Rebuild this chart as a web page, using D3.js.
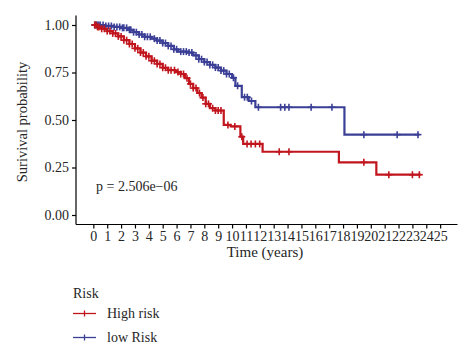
<!DOCTYPE html>
<html><head><meta charset="utf-8">
<script src="https://cdn.jsdelivr.net/npm/d3@7"></script>
<style>body{margin:0;background:#fff}svg{display:block}text{font-family:"Liberation Serif","DejaVu Serif",serif;fill:#262626}</style>
</head><body>
<script>
// ---- data ----
const xTicks = d3.range(0, 26);
const yTicks = [0, 0.25, 0.5, 0.75, 1.0];
const groups = ["High risk", "low Risk"];
const colors = ["#c1151d", "#3b3f96"];
const pText = "p = 2.506e\u221206";

// step knots [time, survival after step]
const highTimes = [0, 0.3, 0.6, 1.0, 1.4, 1.8, 2.2, 2.6, 3.0, 3.4, 3.8, 4.2, 4.6, 5.0, 5.4, 5.9, 6.3, 6.6, 6.9, 7.2, 7.5, 7.8, 8.1, 8.4, 8.8, 9.4, 9.9, 10.6, 10.8, 12.2, 17.7, 20.4, 23.6];
const highSurv  = [1.0, 0.99, 0.98, 0.968, 0.956, 0.94, 0.92, 0.9, 0.877, 0.855, 0.835, 0.812, 0.795, 0.775, 0.762, 0.752, 0.742, 0.72, 0.69, 0.668, 0.642, 0.618, 0.585, 0.562, 0.55, 0.474, 0.466, 0.412, 0.374, 0.333, 0.277, 0.212, 0.212];
const highCensor = [0.1, 0.2, 0.3, 0.4, 0.6, 0.8, 1.0, 1.2, 1.4, 1.6, 1.8, 2.0, 2.2, 2.4, 2.6, 2.8, 3.0, 3.2, 3.4, 3.6, 3.8, 4.0, 4.2, 4.4, 4.6, 4.8, 5.0, 5.2, 5.4, 5.6, 5.85, 6.1, 6.3, 6.5, 6.75, 7.0, 7.2, 7.4, 7.65, 7.9, 8.1, 8.3, 8.6, 8.8, 9.0, 9.2, 9.7, 10.2, 10.7, 11.08, 11.37, 11.68, 11.99, 13.4, 14.1, 19.5, 21.3, 23.0, 23.5];

const lowTimes = [0, 0.8, 1.5, 2.0, 2.5, 2.9, 3.3, 3.7, 4.2, 4.6, 5.0, 5.4, 5.8, 6.1, 6.8, 7.2, 7.6, 8.0, 8.4, 8.8, 9.2, 9.6, 10.0, 10.24, 10.7, 11.2, 11.68, 18.1, 23.5];
const lowSurv  = [1.0, 0.995, 0.99, 0.985, 0.975, 0.962, 0.95, 0.938, 0.928, 0.918, 0.905, 0.89, 0.872, 0.86, 0.855, 0.84, 0.82, 0.805, 0.79, 0.776, 0.76, 0.742, 0.722, 0.68, 0.62, 0.6, 0.567, 0.423, 0.423];
const lowCensor = [0.1, 0.2, 0.3, 0.4, 0.5, 0.7, 0.9, 1.1, 1.3, 1.5, 1.7, 1.9, 2.1, 2.2, 2.4, 2.6, 2.7, 2.9, 3.1, 3.3, 3.5, 3.7, 3.9, 4.1, 4.4, 4.6, 4.8, 5.0, 5.2, 5.4, 5.6, 5.8, 6.0, 6.3, 6.5, 6.7, 6.9, 7.1, 7.4, 7.6, 7.8, 8.0, 8.2, 8.4, 8.6, 8.8, 9.0, 9.2, 9.4, 9.6, 9.8, 10.1, 10.4, 10.9, 11.1, 11.4, 11.9, 13.5, 13.8, 14.1, 15.7, 17.2, 19.5, 21.9, 23.4];

const series = [
  {name: groups[0], color: colors[0], times: highTimes, surv: highSurv, censor: highCensor},
  {name: groups[1], color: colors[1], times: lowTimes, surv: lowSurv, censor: lowCensor}
];

// ---- chart ----
const W = 474, H = 361;
const svg = d3.select("body").append("svg").attr("width", W).attr("height", H);

const x = d3.scaleLinear().domain([-1.25, 26.25]).range([76, 457.5]);
const y = d3.scaleLinear().domain([-0.05, 1.05]).range([224.5, 15.5]);

function survAt(s, t) {
  let v = s.surv[0];
  for (let i = 0; i < s.times.length; i++) { if (s.times[i] <= t) v = s.surv[i]; }
  return v;
}

const line = d3.line().x(d => x(d[0])).y(d => y(d[1])).curve(d3.curveStepAfter);

series.slice().reverse().forEach(s => {
  const pts = s.times.map((t, i) => [t, s.surv[i]]);
  svg.append("path").datum(pts).attr("d", line)
    .attr("fill", "none").attr("stroke", s.color).attr("stroke-width", 2.2);
  const g = svg.append("g").attr("stroke", s.color).attr("stroke-width", 1.6);
  s.censor.forEach(t => {
    const cx = x(t), cy = y(survAt(s, t));
    g.append("line").attr("x1", cx - 3.5).attr("x2", cx + 3.5).attr("y1", cy).attr("y2", cy);
    g.append("line").attr("x1", cx).attr("x2", cx).attr("y1", cy - 3.5).attr("y2", cy + 3.5);
  });
});

// axes
const xAxis = svg.append("g").attr("transform", "translate(0,224.5)")
  .call(d3.axisBottom(x).tickValues(xTicks).tickSize(4).tickPadding(3).tickFormat(d3.format("d")));
const yAxis = svg.append("g").attr("transform", "translate(76,0)")
  .call(d3.axisLeft(y).tickValues(yTicks).tickSize(4).tickPadding(3).tickFormat(d3.format(".2f")));
[xAxis, yAxis].forEach(a => {
  a.select(".domain").attr("stroke", "#000").attr("stroke-width", 1.2);
  a.selectAll(".tick line").attr("stroke", "#000").attr("stroke-width", 1.2);
  a.selectAll(".tick text").attr("fill", "#262626").style("font-size", "14px").style("font-family", '"Liberation Serif",serif');
});
xAxis.select(".domain").attr("d", `M${x.range()[0]},0H${x.range()[1]}`);
yAxis.select(".domain").attr("d", `M0,${y.range()[0]}V${y.range()[1]}`);

// titles
svg.append("text").attr("x", 265).attr("y", 257).attr("text-anchor", "middle")
  .style("font-size", "15px").text("Time (years)");
svg.append("text").attr("transform", "translate(27,122) rotate(-90)").attr("text-anchor", "middle")
  .style("font-size", "14.5px").text("Surivival probability");

// p value
svg.append("text").attr("x", 96).attr("y", 191).style("font-size", "14px").text(pText);

// legend
svg.append("text").attr("x", 73).attr("y", 298).style("font-size", "14px").text("Risk");
series.forEach((s, i) => {
  const ly = 313.5 + i * 24;
  svg.append("line").attr("x1", 73).attr("x2", 96).attr("y1", ly).attr("y2", ly)
    .attr("stroke", s.color).attr("stroke-width", 1.3);
  svg.append("line").attr("x1", 84.5).attr("x2", 84.5).attr("y1", ly - 3).attr("y2", ly + 3)
    .attr("stroke", s.color).attr("stroke-width", 1.3);
  svg.append("text").attr("x", 107).attr("y", ly + 4.5).style("font-size", "14px").text(s.name);
});
</script>
</body></html>
